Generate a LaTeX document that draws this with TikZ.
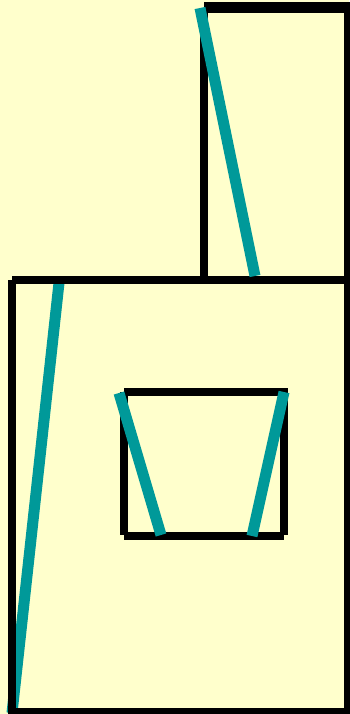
\documentclass[tikz,border=0pt]{standalone}
\definecolor{bgyellow}{HTML}{FFFFCC}
\definecolor{tealline}{HTML}{009999}
\tikzset{
  edge/.style={draw=black,line width=8pt,line cap=butt},
  thickedge/.style={draw=black,line width=11pt,line cap=butt},
  stroke/.style={draw=tealline,line width=11pt,line cap=butt}
}
\begin{document}
\begin{tikzpicture}[x=1pt,y=-1pt]
\useasboundingbox (0,0) rectangle (349,714);
\fill[bgyellow] (0,0) rectangle (349,714);
% diagonal in big rectangle (under the black frame)
\draw[stroke] (59,283) -- (12,713);
% top rectangle
\draw[thickedge] (204,7.5) -- (352,7.5);
\draw[edge] (204,13) -- (204,276);
\draw[edge] (348,7) -- (348,276);
% big rectangle
\draw[edge] (12,280) -- (352,280);
\draw[edge] (12,280) -- (12,718);
\draw[edge] (348,280) -- (348,718);
\draw[edge] (12,711.5) -- (345,711.5);
% inner rectangle
\draw[edge] (124,392) -- (284,392);
\draw[edge] (124,392) -- (124,535);
\draw[edge] (284,388) -- (284,535);
\draw[edge] (124,535.5) -- (284,535.5);
% teal strokes on top
\draw[stroke] (200,8) -- (255,276);
\draw[stroke] (119,393) -- (161,535);
\draw[stroke] (284,392) -- (252,536);
\end{tikzpicture}
\end{document}
